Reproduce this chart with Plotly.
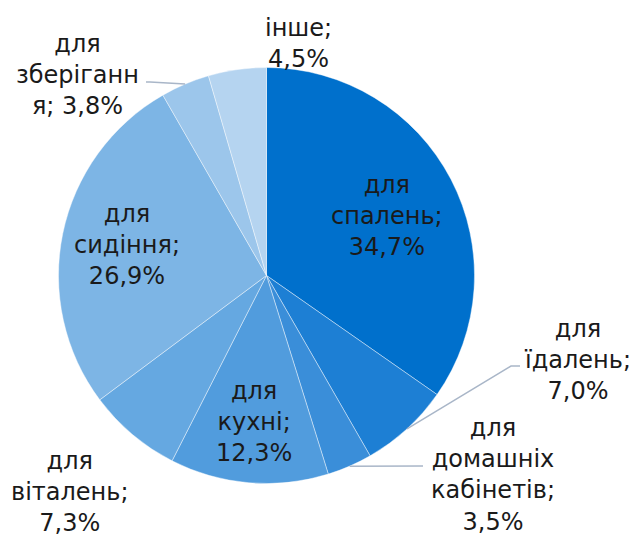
import math
import plotly.graph_objects as go

# ---- data ----
categories = ["для спалень", "для їдалень", "для домашніх кабінетів", "для кухні",
              "для віталень", "для сидіння", "для зберігання", "інше"]
values = [34.7, 7.0, 3.5, 12.3, 7.3, 26.9, 3.8, 4.5]
label_texts = ["для<br>спалень;<br>34,7%", "для<br>їдалень;<br>7,0%",
               "для<br>домашніх<br>кабінетів;<br>3,5%", "для<br>кухні;<br>12,3%",
               "для<br>віталень;<br>7,3%", "для<br>сидіння;<br>26,9%",
               "для<br>зберіганн<br>я; 3,8%", "інше;<br>4,5%"]

# ---- style / layout ----
PAGE_OFF = 8  # default body margin of the html page
W, H = 638 - PAGE_OFF, 536 - PAGE_OFF
colors = ["#0070CC", "#1D7FD4", "#3A8ED9", "#519CDD", "#65A8E1", "#7DB5E5", "#9CC6EB", "#B5D4F0"]
CX, CY, R = 266.5, 275.5, 208.0  # window pixels
# label block centres in window pixels
label_pos = [(387, 216), (577, 360), (493, 475), (254, 422),
             (70, 492), (127, 245), (77, 75), (298, 43)]
# leader lines: slice index -> list of extra points (elbow, end) in window pixels
leaders = {1: [(511, 366), (520, 366)],
           2: [(423, 466)],
           6: [(150, 82), (146, 82)]}
FONT = "DejaVu Sans"


def px(x, y):
    return (x - PAGE_OFF) / W, 1 - (y - PAGE_OFF) / H


x0, y1 = px(CX - R, CY - R)
x1, y0 = px(CX + R, CY + R)

fig = go.Figure(go.Pie(
    labels=categories, values=values, sort=False, direction="clockwise",
    marker=dict(colors=colors, line=dict(color="rgba(255,255,255,0.6)", width=0.7)),
    textinfo="none", hoverinfo="label+percent", showlegend=False,
    domain=dict(x=[x0, x1], y=[y0, y1]),
))

total = sum(values)
cum = 0.0
mids = []
for v in values:
    mids.append((cum + v / 2) / total * 2 * math.pi)
    cum += v

annotations = []
for i, t in enumerate(label_texts):
    x, y = px(*label_pos[i])
    annotations.append(dict(x=x, y=y, xref="paper", yref="paper", text=t, showarrow=False,
                            xanchor="center", yanchor="middle", align="center",
                            font=dict(family=FONT, size=24, color="#1a1a1a")))

shapes = []
for i, pts in leaders.items():
    a = mids[i]
    sx, sy = CX + R * math.sin(a), CY - R * math.cos(a)
    path_pts = [(sx, sy)] + pts
    d = "M " + " L ".join(f"{px(x, y)[0]},{px(x, y)[1]}" for x, y in path_pts)
    shapes.append(dict(type="path", path=d, xref="paper", yref="paper",
                       line=dict(color="#A9B6C8", width=1.5)))

fig.update_layout(width=W, height=H, margin=dict(l=0, r=0, t=0, b=0),
                  paper_bgcolor="white", plot_bgcolor="white",
                  annotations=annotations, shapes=shapes)
fig.write_html("out.html")
